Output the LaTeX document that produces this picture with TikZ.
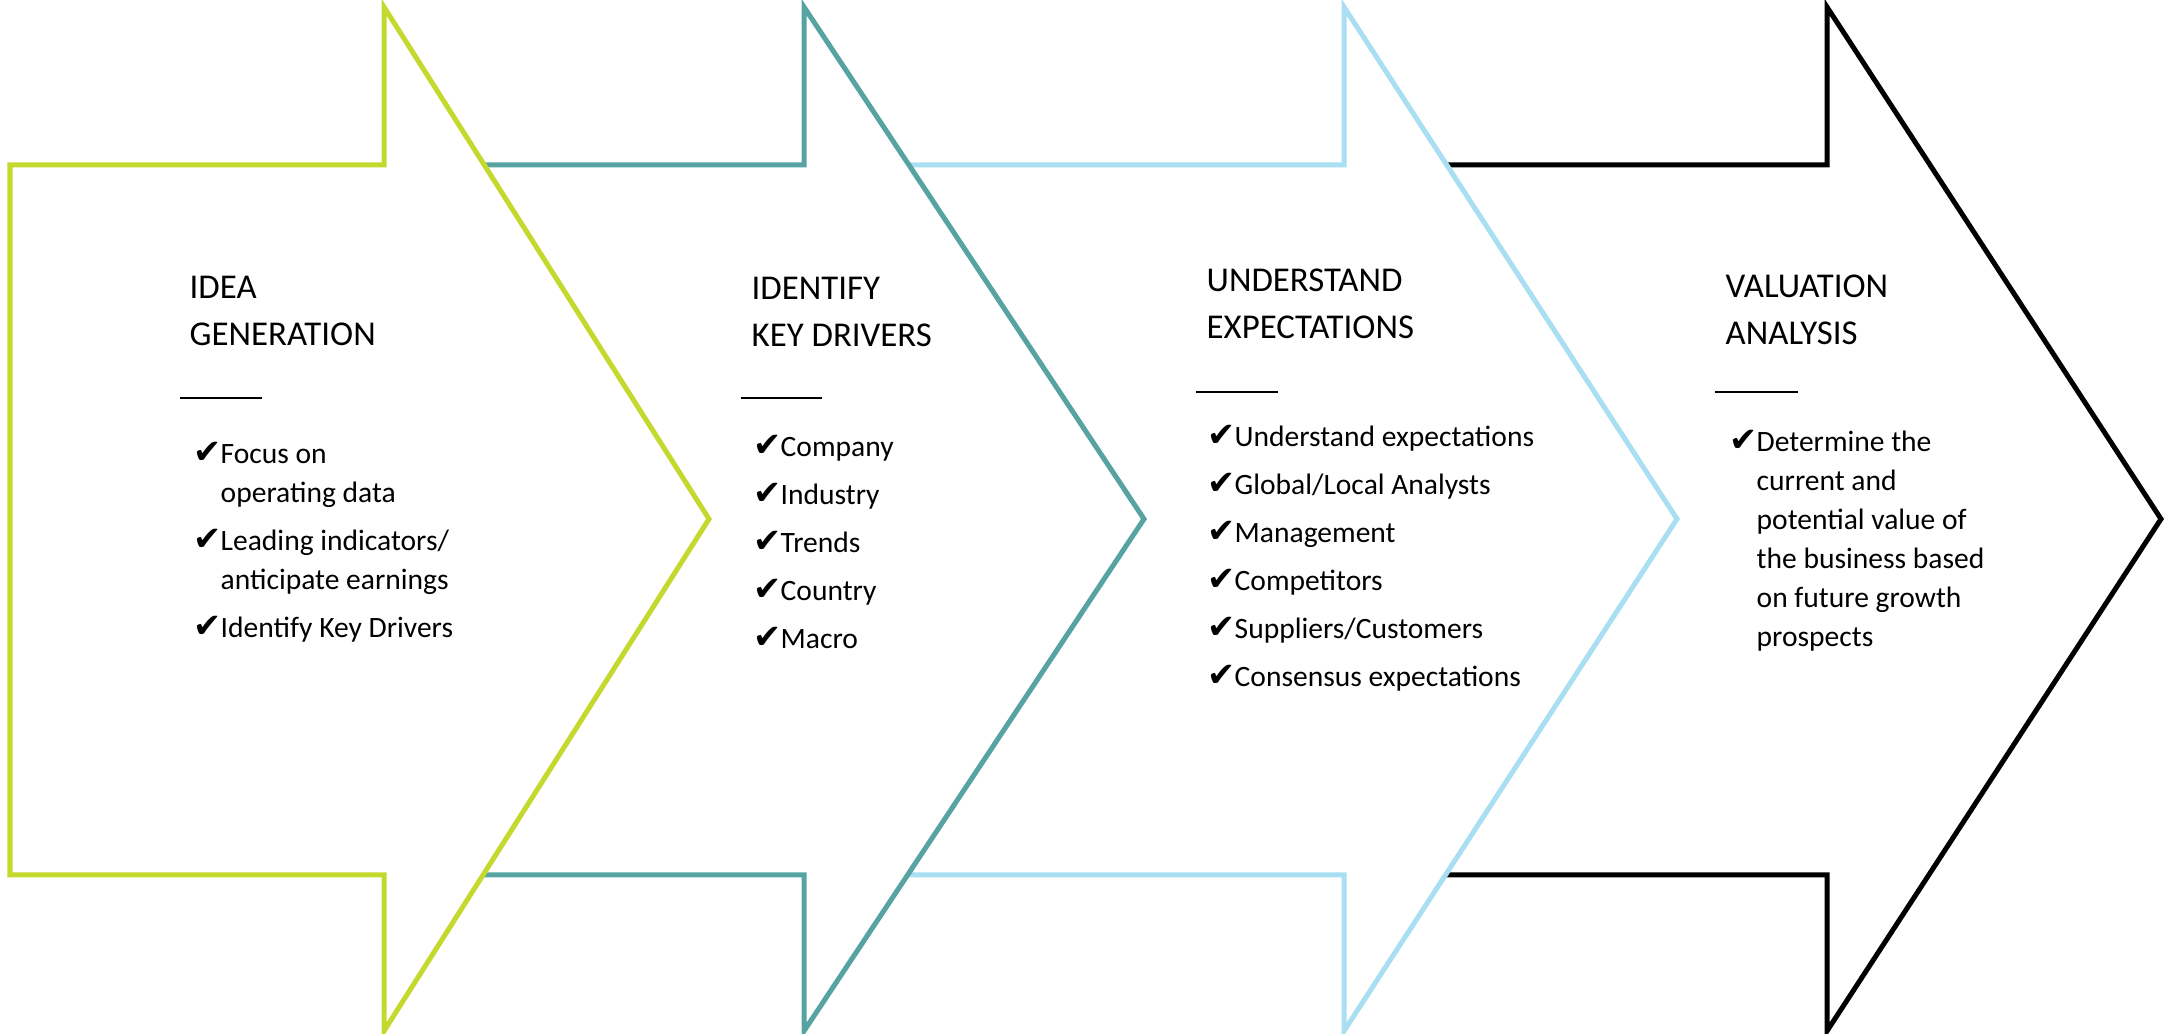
\documentclass[tikz,border=0pt]{standalone}
\usepackage{fontspec}
\setmainfont{Carlito}
\newfontfamily\symfont{DejaVu Sans}
\definecolor{stagegreen}{HTML}{C4D92E}
\definecolor{stageteal}{HTML}{57A3A1}
\definecolor{stageblue}{HTML}{AADEF2}
\newcommand{\chk}{\makebox[0.27cm][l]{{\symfont\fontsize{9.6}{11.1}\selectfont\char"2714}}}
\newcommand{\ind}{\hspace*{0.27cm}}
\tikzstyle{stage}=[line width=0.05cm, fill=white]
% base anchor of a multi-line node sits on its last line
\tikzstyle{title}=[anchor=base west, inner sep=0pt, align=left, font=\fontsize{9.9}{13.4}\selectfont]
\tikzstyle{items}=[anchor=base west, inner sep=0pt, align=left, font=\fontsize{8.4}{11.1}\selectfont]
\tikzstyle{rule}=[line width=0.027cm]
\begin{document}
\begin{tikzpicture}[x=0.01cm, y=-0.01cm]
	\useasboundingbox (0,0) rectangle (2174,1034);

	% Stage arrows, drawn back to front
	\foreach \lft/\notch/\tip/\col in {1400/1827/2161/black, 830/1344/1677/stageblue, 400/804/1144/stageteal, 10/384/709/stagegreen}
	\draw[stage, draw=\col] (\lft,165) -- (\notch,165) -- (\notch,7) -- (\tip,519) -- (\notch,1031) -- (\notch,875) -- (\lft,875) -- cycle;

	% Titles
	\node[title] (t1) at (189,346) {IDEA\\GENERATION};
	\node[title] (t2) at (751,347) {IDENTIFY\\KEY DRIVERS};
	\node[title] (t3) at (1206,339) {UNDERSTAND\\EXPECTATIONS};
	\node[title] (t4) at (1725,345) {VALUATION\\ANALYSIS};

	% Short rules under the titles
	\foreach \xa/\xb/\yy in {180/262/398, 741/822/398, 1196/1278/392, 1715/1798/392}
	\draw[rule] (\xa,\yy) -- (\xb,\yy);

	% Check lists
	\node[items] (l1) at (193,638) {\chk Focus on\\\ind operating data\\[0.09cm]\chk Leading indicators/\\\ind anticipate earnings\\[0.09cm]\chk Identify Key Drivers};
	\node[items] (l2) at (753,649) {\chk Company\\[0.09cm]\chk Industry\\[0.09cm]\chk Trends\\[0.09cm]\chk Country\\[0.09cm]\chk Macro};
	\node[items] (l3) at (1207,687) {\chk Understand expectations\\[0.09cm]\chk Global/Local Analysts\\[0.09cm]\chk Management\\[0.09cm]\chk Competitors\\[0.09cm]\chk Suppliers/Customers\\[0.09cm]\chk Consensus expectations};
	\node[items] (l4) at (1729,647) {\chk Determine the\\\ind current and\\\ind potential value of\\\ind the business based\\\ind on future growth\\\ind prospects};
\end{tikzpicture}
\end{document}
